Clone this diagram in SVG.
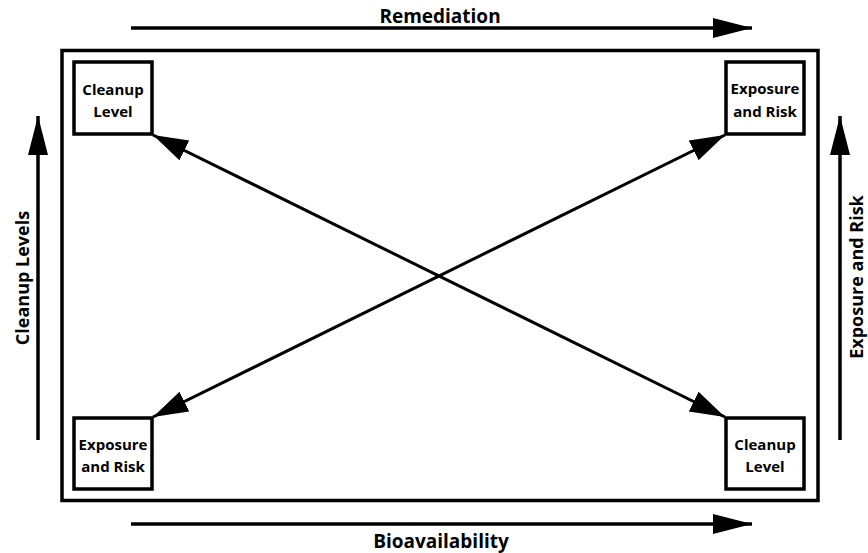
<svg xmlns="http://www.w3.org/2000/svg" width="868" height="553" viewBox="0 0 868 553">
<style>
.box{fill:#fff;stroke:#000;stroke-width:3.5}
.frame{fill:none;stroke:#000;stroke-width:3.5}
.t{font-family:"Open Sans","Liberation Sans",sans-serif;font-weight:bold;font-size:15px;fill:#000;text-anchor:middle}
.lbl{font-family:"Open Sans","Liberation Sans",sans-serif;font-weight:bold;font-size:18px;fill:#000;text-anchor:middle}
.ax{stroke:#000;stroke-width:3.5;fill:none;marker-end:url(#ah)}
.dg{stroke:#000;stroke-width:3;fill:none;marker-start:url(#dh);marker-end:url(#dh)}
</style>
<defs>
<marker id="ah" markerUnits="userSpaceOnUse" markerWidth="40" markerHeight="22" refX="39" refY="10" orient="auto">
<path d="M0,0 L39,10 L0,20 Z" fill="#000"/>
</marker>
<marker id="dh" markerUnits="userSpaceOnUse" markerWidth="36" markerHeight="24" refX="35" refY="11" orient="auto-start-reverse">
<path d="M0,0 L35,11 L0,22 Z" fill="#000"/>
</marker>
</defs>
<rect class="frame" x="62" y="50.5" width="756" height="450"/>
<g id="connectors">
<line class="ax" x1="131" y1="28" x2="752" y2="28"/>
<line class="ax" x1="131" y1="524" x2="752" y2="524"/>
<line class="ax" x1="38" y1="440" x2="38" y2="116"/>
<line class="ax" x1="840" y1="440" x2="840" y2="116"/>
<line class="dg" x1="153" y1="135" x2="725" y2="417"/>
<line class="dg" x1="153" y1="417" x2="725" y2="135"/>
</g>
<g id="label-remediation"><text class="lbl" x="440" y="23" style="font-size:19px">Remediation</text></g>
<g id="label-bioavailability"><text class="lbl" x="441" y="548" style="font-size:19px">Bioavailability</text></g>
<g id="label-cleanup-levels"><text class="lbl" transform="translate(29,278) rotate(-90)">Cleanup Levels</text></g>
<g id="label-exposure-risk"><text class="lbl" transform="translate(863,277) rotate(-90)">Exposure and Risk</text></g>
<g id="node-tl">
<rect class="box" x="74" y="62" width="78" height="72"/>
<text class="t" x="113" y="95">Cleanup</text>
<text class="t" x="113" y="117">Level</text>
</g>
<g id="node-tr">
<rect class="box" x="726" y="62" width="78" height="72"/>
<text class="t" x="765" y="94">Exposure</text>
<text class="t" x="765" y="117">and Risk</text>
</g>
<g id="node-bl">
<rect class="box" x="74" y="418" width="78" height="71"/>
<text class="t" x="113" y="450">Exposure</text>
<text class="t" x="113" y="472">and Risk</text>
</g>
<g id="node-br">
<rect class="box" x="726" y="418" width="78" height="71"/>
<text class="t" x="765" y="450">Cleanup</text>
<text class="t" x="765" y="472">Level</text>
</g>
</svg>
